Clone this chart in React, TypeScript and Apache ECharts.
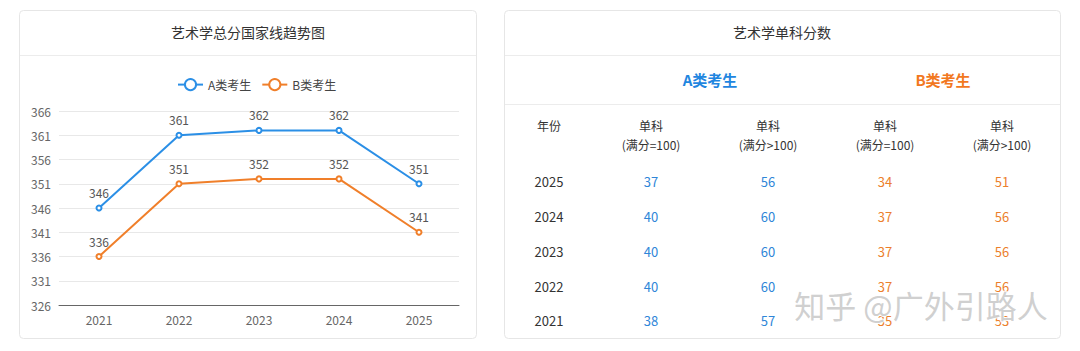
import React, { useEffect, useRef } from "react";
import * as echarts from "echarts";

const lineYears = ["2021", "2022", "2023", "2024", "2025"];
const seriesA = [346, 361, 362, 362, 351];
const seriesB = [336, 351, 352, 352, 341];
const yTicks = { min: 326, max: 366, step: 5 };

const tableYears = ["2025", "2024", "2023", "2022", "2021"];
const tableCols = ["单科\n(满分=100)", "单科\n(满分>100)", "单科\n(满分=100)", "单科\n(满分>100)"];
const aFull100 = [37, 40, 40, 40, 38];
const aOver100 = [56, 60, 60, 60, 57];
const bFull100 = [34, 37, 37, 37, 35];
const bOver100 = [51, 56, 56, 56, 53];

const BLUE = "#2b8fe6";
const ORANGE = "#f07f2a";
const FONT = "'Noto Sans CJK SC', 'Noto Sans', sans-serif";

export default function App() {
  const ref = useRef<HTMLDivElement>(null);
  useEffect(() => {
    if (!ref.current) return;
    const chart = echarts.init(ref.current, undefined, { renderer: "svg" });
    const tableSeries = [aFull100, aOver100, bFull100, bOver100].map((vals, ci) => ({
      type: "scatter",
      xAxisIndex: 1,
      yAxisIndex: 1,
      symbolSize: 1,
      itemStyle: { color: "#ffffff", opacity: 1 },
      data: vals.map((v, ri) => [ci, ri, v]),
      label: {
        show: true,
        position: "inside",
        formatter: (p: any) => String(p.value[2]),
        color: ci < 2 ? "#2f86d8" : "#ec7f2c",
        fontSize: 13,
        fontFamily: FONT,
      },
      silent: true,
    }));
    chart.setOption({
      animation: false,
      textStyle: { fontFamily: FONT },
      graphic: [
        { type: "rect", shape: { x: 19.5, y: 10.5, width: 457, height: 328, r: 4 }, style: { fill: "#fff", stroke: "#e6e6e6", lineWidth: 1 }, z: -10 },
        { type: "line", shape: { x1: 20, y1: 55.5, x2: 476, y2: 55.5 }, style: { stroke: "#ececec", lineWidth: 1 }, z: -9 },
        { type: "text", x: 248, y: 32, style: { text: "艺术学总分国家线趋势图", fill: "#333", fontSize: 14, fontFamily: FONT, align: "center", verticalAlign: "middle" } },
        { type: "rect", shape: { x: 504.5, y: 10.5, width: 556, height: 328, r: 4 }, style: { fill: "#fff", stroke: "#e6e6e6", lineWidth: 1 }, z: -10 },
        { type: "line", shape: { x1: 505, y1: 55.5, x2: 1060, y2: 55.5 }, style: { stroke: "#ececec", lineWidth: 1 }, z: -9 },
        { type: "line", shape: { x1: 505, y1: 104.5, x2: 1060, y2: 104.5 }, style: { stroke: "#ececec", lineWidth: 1 }, z: -9 },
        { type: "text", x: 782, y: 32, style: { text: "艺术学单科分数", fill: "#333", fontSize: 14, fontFamily: FONT, align: "center", verticalAlign: "middle" } },
        { type: "text", x: 710, y: 79, style: { text: "A类考生", fill: "#1f86e0", fontSize: 15, fontWeight: "bold", fontFamily: FONT, align: "center", verticalAlign: "middle" } },
        { type: "text", x: 943, y: 79, style: { text: "B类考生", fill: "#f2781f", fontSize: 15, fontWeight: "bold", fontFamily: FONT, align: "center", verticalAlign: "middle" } },
        { type: "text", x: 549, y: 125, style: { text: "年份", fill: "#333", fontSize: 12, fontFamily: FONT, align: "center", verticalAlign: "middle" } },
        { type: "text", x: 921, y: 304, z: 100, style: { text: "知乎 @广外引路人", fill: "rgba(195,195,195,0.8)", stroke: "rgba(255,255,255,0.9)", lineWidth: 2, fontSize: 31, fontFamily: FONT, align: "center", verticalAlign: "middle" } },
      ],
      legend: {
        top: 73,
        left: 172,
        itemWidth: 25,
        itemHeight: 14,
        itemGap: 10,
        textStyle: { color: "#444", fontSize: 12, fontFamily: FONT },
        data: ["A类考生", "B类考生"],
      },
      grid: [
        { left: 59, right: 621, top: 111, bottom: 46 },
        { left: 592.5, right: 19.5, top: 164.6, height: 173.75 },
      ],
      xAxis: [
        {
          type: "category",
          gridIndex: 0,
          data: lineYears,
          boundaryGap: true,
          axisLine: { lineStyle: { color: "#666" } },
          axisTick: { lineStyle: { color: "#666" } },
          axisLabel: { color: "#666", fontSize: 12, margin: 8 },
        },
        {
          type: "category",
          gridIndex: 1,
          position: "top",
          data: tableCols,
          axisLine: { show: false },
          axisTick: { show: false },
          splitLine: { show: false },
          axisLabel: { color: "#333", fontSize: 12, lineHeight: 19, margin: 11 },
        },
      ],
      yAxis: [
        {
          type: "value",
          gridIndex: 0,
          min: yTicks.min,
          max: yTicks.max,
          interval: yTicks.step,
          axisLine: { show: false },
          axisTick: { show: false },
          axisLabel: { color: "#666", fontSize: 12, margin: 8 },
          splitLine: { lineStyle: { color: "#e8e8e8" } },
        },
        {
          type: "category",
          gridIndex: 1,
          inverse: true,
          data: tableYears,
          axisLine: { show: false },
          axisTick: { show: false },
          splitLine: { show: false },
          axisLabel: { color: "#333", fontSize: 13, margin: 43.5, align: "center" },
        },
      ],
      series: [
        {
          name: "A类考生",
          type: "line",
          data: seriesA,
          color: BLUE,
          symbol: "emptyCircle",
          symbolSize: 5,
          lineStyle: { width: 2 },
          label: { show: true, position: "top", color: "#555", fontSize: 12, distance: 6 },
        },
        {
          name: "B类考生",
          type: "line",
          data: seriesB,
          color: ORANGE,
          symbol: "emptyCircle",
          symbolSize: 5,
          lineStyle: { width: 2 },
          label: { show: true, position: "top", color: "#555", fontSize: 12, distance: 6 },
        },
        ...tableSeries,
      ],
    });
    return () => chart.dispose();
  }, []);
  return (
    <div
      ref={ref}
      style={{ position: "absolute", left: 0, top: 0, width: 1080, height: 351, background: "#fff" }}
    />
  );
}
